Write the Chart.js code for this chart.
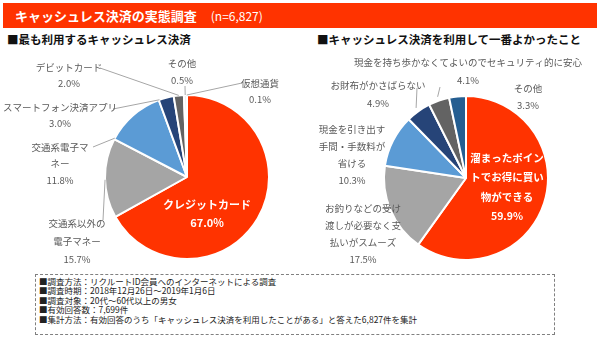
<!DOCTYPE html>
<html>
<head>
<meta charset="utf-8">
<script src="https://cdn.jsdelivr.net/npm/chart.js@4"></script>
<style>
  body { margin: 0; width: 600px; height: 343px; background: #fff; position: relative; overflow: hidden;
         font-family: "Noto Sans CJK JP", "Noto Sans", sans-serif; }
  #header { position: absolute; left: 3px; top: 3px; width: 594px; height: 25px; background: #ff3300;
            color: #fff; line-height: 25px; font-size: 13px; }
  #header b { margin-left: 12px; }
  #header span { margin-left: 14px; font-size: 12px; }
  .sub { position: absolute; top: 31px; font-size: 11.5px; font-weight: bold; color: #111; }
  canvas { position: absolute; top: 50px; }
  #note { position: absolute; left: 35px; top: 274px; width: 515px; height: 57px; border: 1px dashed #808080;
          padding: 2px 0 0 3px; font-size: 8.5px; line-height: 9.4px; color: #222; }
</style>
</head>
<body>
<div id="header"><b>キャッシュレス決済の実態調査</b><span>(n=6,827)</span></div>
<div class="sub" style="left:7px">■最も利用するキャッシュレス決済</div>
<div class="sub" style="left:317px">■キャッシュレス決済を利用して一番よかったこと</div>
<canvas id="usedChart" width="300" height="215" style="left:0px"></canvas>
<canvas id="goodChart" width="300" height="215" style="left:300px"></canvas>
<div id="note"></div>
<script>
// 最も利用するキャッシュレス決済
const usedLabels = ['クレジットカード', '交通系以外の電子マネー', '交通系電子マネー', 'スマートフォン決済アプリ', 'デビットカード', 'その他', '仮想通貨'];
const usedValues = [67.0, 15.7, 11.8, 3.0, 2.0, 0.5, 0.1];

// キャッシュレス決済を利用して一番よかったこと
const goodLabels = ['溜まったポイントでお得に買い物ができる', 'お釣りなどの受け渡しが必要なく支払いがスムーズ', '現金を引き出す手間・手数料が省ける', 'お財布がかさばらない', '現金を持ち歩かなくてよいのでセキュリティ的に安心', 'その他'];
const goodValues = [59.9, 17.5, 10.3, 4.9, 4.1, 3.3];

const noteLines = [
  '■調査方法：リクルートID会員へのインターネットによる調査',
  '■調査時期：2018年12月26日～2019年1月6日',
  '■調査対象：20代～60代以上の男女',
  '■有効回答数：7,699件',
  '■集計方法：有効回答のうち「キャッシュレス決済を利用したことがある」と答えた6,827件を集計'
];
document.getElementById('note').innerHTML = noteLines.join('<br>');

const RED = '#ff3300';
const usedColors = [RED, '#a5a5a5', '#5b9bd5', '#264478', '#636363', '#c0c0c0', '#8c8c8c'];
const goodColors = [RED, '#a5a5a5', '#5b9bd5', '#264478', '#636363', '#255e91'];

// label layout: x, y of first line, line height, wrap length, inside?, leader [startX, startY, t along arc, extra radius]
const usedLayout = [
  { x: 207, y: 155, lh: 18, wrap: 99, inside: true },
  { x: 77, y: 173, lh: 18, wrap: 6, lead: [103, 170, 0.48, 0] },
  { x: 60, y: 97, lh: 16.5, wrap: 6, lead: [93, 97, 0.02, 0] },
  { x: 60, y: 57, lh: 16, wrap: 99, lead: [113, 59, 0.05, 0] },
  { x: 69, y: 17, lh: 16, wrap: 99, lead: [100, 18, 0.5, 0] },
  { x: 182, y: 13, lh: 17, wrap: 99, lead: [185, 36, 0.5, 0] },
  { x: 260, y: 33, lh: 16, wrap: 99, lead: [242, 33, 0.5, 0] }
];
const goodLayout = [
  { x: 207, y: 108, lh: 19.5, wrap: 7, inside: true },
  { x: 63, y: 158, lh: 17, wrap: 8 },
  { x: 52, y: 79, lh: 17, wrap: 7 },
  { x: 78, y: 35, lh: 18, wrap: 99, lead: [117, 38, 0.5, 4] },
  { x: 168, y: 12, lh: 18, wrap: 99, lead: [140, 37, 0.5, 4] },
  { x: 228, y: 38, lh: 17, wrap: 99 }
];

function wrapText(s, n) {
  const out = [];
  for (let i = 0; i < s.length; i += n) out.push(s.slice(i, i + n));
  return out;
}

const pieLabelPlugin = {
  id: 'pieLabels',
  afterDatasetsDraw(chart, args, opts) {
    const ctx = chart.ctx;
    const meta = chart.getDatasetMeta(0);
    const labels = chart.data.labels;
    const values = chart.data.datasets[0].data;
    ctx.save();
    ctx.textAlign = 'center';
    ctx.textBaseline = 'middle';
    meta.data.forEach((arc, i) => {
      const lay = opts.layout[i];
      const lines = wrapText(labels[i], lay.wrap);
      lines.push(values[i].toFixed(1) + '%');
      if (lay.lead) {
        const p = arc.getProps(['x', 'y', 'startAngle', 'endAngle', 'outerRadius'], true);
        const a = p.startAngle + (p.endAngle - p.startAngle) * lay.lead[2];
        const r = p.outerRadius + lay.lead[3];
        ctx.strokeStyle = '#a6a6a6';
        ctx.lineWidth = 1;
        ctx.beginPath();
        ctx.moveTo(lay.lead[0], lay.lead[1]);
        ctx.lineTo(p.x + Math.cos(a) * r, p.y + Math.sin(a) * r);
        ctx.stroke();
      }
      if (lay.inside) {
        ctx.fillStyle = '#fff';
        ctx.font = 'bold ' + opts.insideSize + 'px "Noto Sans CJK JP"';
      } else {
        ctx.fillStyle = '#595959';
        ctx.font = '9.5px "Noto Sans CJK JP"';
      }
      lines.forEach((t, k) => ctx.fillText(t, lay.x, lay.y + k * lay.lh));
    });
    ctx.restore();
  }
};

function makePie(id, labels, values, colors, layout, padding, insideSize) {
  return new Chart(document.getElementById(id), {
    type: 'pie',
    data: {
      labels: labels,
      datasets: [{
        data: values,
        backgroundColor: colors,
        borderColor: '#ffffff',
        borderWidth: 2
      }]
    },
    options: {
      responsive: false,
      animation: false,
      layout: { padding: padding },
      plugins: {
        legend: { display: false },
        tooltip: { enabled: false },
        pieLabels: { layout: layout, insideSize: insideSize }
      }
    },
    plugins: [pieLabelPlugin]
  });
}

makePie('usedChart', usedLabels, usedValues, usedColors, usedLayout, { left: 104, right: 30, top: 44, bottom: 5 }, 11);
makePie('goodChart', goodLabels, goodValues, goodColors, goodLayout, { left: 83, right: 51, top: 45, bottom: 4 }, 10.5);
</script>
</body>
</html>
